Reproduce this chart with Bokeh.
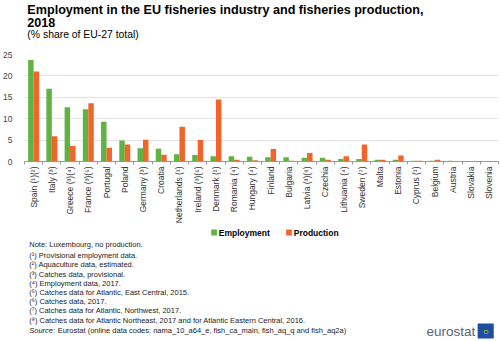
import numpy as np
from bokeh.plotting import figure
from bokeh.layouts import column
from bokeh.models import (Range1d, LinearAxis, FixedTicker, Label, ColumnDataSource,
                          BoxAnnotation)
from bokeh.embed import file_html
from bokeh.resources import INLINE

countries = ["Spain (¹)(²)", "Italy (³)", "Greece (³)(⁴)", "France (³)(⁵)", "Portugal", "Poland",
             "Germany (³)", "Croatia", "Netherlands (¹)", "Ireland (³)(⁶)", "Denmark (²)",
             "Romania (⁴)", "Hungary (⁴)", "Finland", "Bulgaria", "Latvia (³)(⁸)", "Czechia",
             "Lithuania (⁴)", "Sweden (⁷)", "Malta", "Estonia", "Cyprus (¹)", "Belgium",
             "Austria", "Slovakia", "Slovenia"]
employment = [23.7, 17.0, 12.7, 12.2, 9.3, 4.9, 3.1, 3.0, 1.7, 1.5, 1.2, 1.2, 1.1, 1.0, 1.0,
              0.9, 0.9, 0.6, 0.6, 0.4, 0.4, 0.2, 0.15, 0.2, 0.1, 0.1]
production = [21.0, 5.9, 3.6, 13.6, 3.2, 4.0, 5.1, 1.6, 8.1, 5.0, 14.5, 0.4, 0.3, 2.9, 0.2,
              2.0, 0.4, 1.2, 4.0, 0.4, 1.4, 0.15, 0.4, 0.1, 0.1, 0.1]
y_ticks = [0, 5, 10, 15, 20, 25]
series = ["Employment", "Production"]

title1 = "Employment in the EU fisheries industry and fisheries production,"
title2 = "2018"
subtitle = "(% share of EU-27 total)"
notes = ["Note: Luxembourg, no production.",
         "(¹) Provisional employment data.",
         "(²) Aquaculture data, estimated.",
         "(³) Catches data, provisional.",
         "(⁴) Employment data, 2017.",
         "(⁵) Catches data for Atlantic, East Central, 2015.",
         "(⁶) Catches data, 2017.",
         "(⁷) Catches data for Atlantic, Northwest, 2017.",
         "(⁸) Catches data for Atlantic Northeast, 2017 and for Atlantic Eastern Central, 2016."]
source_rest = "Eurostat (online data codes: nama_10_a64_e, fish_ca_main, fish_aq_q and fish_aq2a)"

GREEN = "#5fb343"
ORANGE = "#f1652a"
FONT = "Liberation Sans"

H_TOP, H_CHART = 47, 179
H_FOOT = 341 - H_TOP - H_CHART


def blank(height, y0):
    f = figure(width=500, height=height, x_range=Range1d(0, 500),
               y_range=Range1d(y0 + height, y0), output_backend="svg", toolbar_location=None,
               x_axis_location=None, y_axis_location=None, min_border=0)
    f.outline_line_color = None
    f.xgrid.grid_line_color = None
    f.ygrid.grid_line_color = None
    return f


def lab(f, text, xc, yc, size, style="normal", color="#000000", align="left"):
    f.add_layout(Label(x=xc, y=yc, text=text, text_font=FONT, text_font_size=size,
                       text_font_style=style, text_color=color, text_baseline="middle",
                       text_align=align))


# ---------- header ----------
head = blank(H_TOP, 0)
lab(head, title1, 3, 9, "12.6px", "bold")
lab(head, title2, 3, 22, "12.6px", "bold")
lab(head, subtitle, 3, 34, "10.4px")

# ---------- chart ----------
n = len(countries)
centers = np.arange(n) + 0.5
src = ColumnDataSource(dict(xe=centers - 0.15, xp=centers + 0.15, e=employment, p=production))

p = figure(width=500, height=H_CHART, x_range=Range1d(0, n), y_range=Range1d(0, 25),
           output_backend="svg", toolbar_location=None, x_axis_location=None,
           min_border_left=22, min_border_right=2, min_border_top=54 - H_TOP,
           min_border_bottom=H_TOP + H_CHART - 162)
p.outline_line_color = None

p.vbar(x="xe", top="e", width=0.3, source=src, fill_color=GREEN, line_color=None)
p.vbar(x="xp", top="p", width=0.3, source=src, fill_color=ORANGE, line_color=None)

ya = p.yaxis[0]
ya.ticker = FixedTicker(ticks=y_ticks)
ya.axis_line_color = None
ya.major_tick_line_color = None
ya.minor_tick_line_color = None
ya.major_label_text_font = FONT
ya.major_label_text_font_size = "8.5px"
ya.major_label_text_color = "#444444"
ya.major_label_standoff = 6
p.ygrid.ticker = FixedTicker(ticks=y_ticks)
p.ygrid.grid_line_color = "#e4e4e4"
p.xgrid.grid_line_color = None

# one x axis: labels at category centres, minor ticks at category boundaries
ca = LinearAxis(ticker=FixedTicker(ticks=list(centers), minor_ticks=list(range(n + 1))),
                major_label_overrides={float(c): name for c, name in zip(centers, countries)})
ca.axis_line_color = "#9a9a9a"
ca.major_tick_line_color = None
ca.major_tick_out = 3
ca.major_tick_in = 0
ca.minor_tick_line_color = "#9a9a9a"
ca.minor_tick_out = 3
ca.minor_tick_in = 0
ca.major_label_orientation = np.pi / 2
ca.major_label_text_font = FONT
ca.major_label_text_font_size = "8.5px"
ca.major_label_text_color = "#333333"
ca.major_label_standoff = 2
p.add_layout(ca, "below")

# ---------- footer ----------
foot = blank(H_FOOT, H_TOP + H_CHART)

# legend: swatch + bold label for each series
for name, color, x0 in zip(series, [GREEN, ORANGE], [197, 276]):
    foot.add_layout(BoxAnnotation(left=x0, right=x0 + 6, top=229, bottom=235, fill_color=color,
                                  fill_alpha=1, line_color=None))
    lab(foot, name, x0 + 8, 232, "8.5px", "bold")

note_y = [244, 255, 264.3, 273.5, 282.8, 292, 301.2, 310.4, 319.8]
for t, yy in zip(notes, note_y):
    lab(foot, t, 5, yy, "7.5px", color="#222222")
lab(foot, "Source:", 5, 330, "7.5px", "italic", "#222222")
lab(foot, source_rest, 35, 330, "7.5px", color="#222222")

lab(foot, "eurostat", 424, 331, "13.5px", "normal", "#5a6478")
foot.add_layout(BoxAnnotation(left=478, right=495, top=323, bottom=338, fill_color="#1d4fa0",
                              fill_alpha=1, line_color=None))
lab(foot, "○", 486.5, 330.5, "10px", "normal", "#f5d800", "center")

layout = column(head, p, foot, spacing=0)
open("out.html", "w").write(file_html(layout, INLINE))
